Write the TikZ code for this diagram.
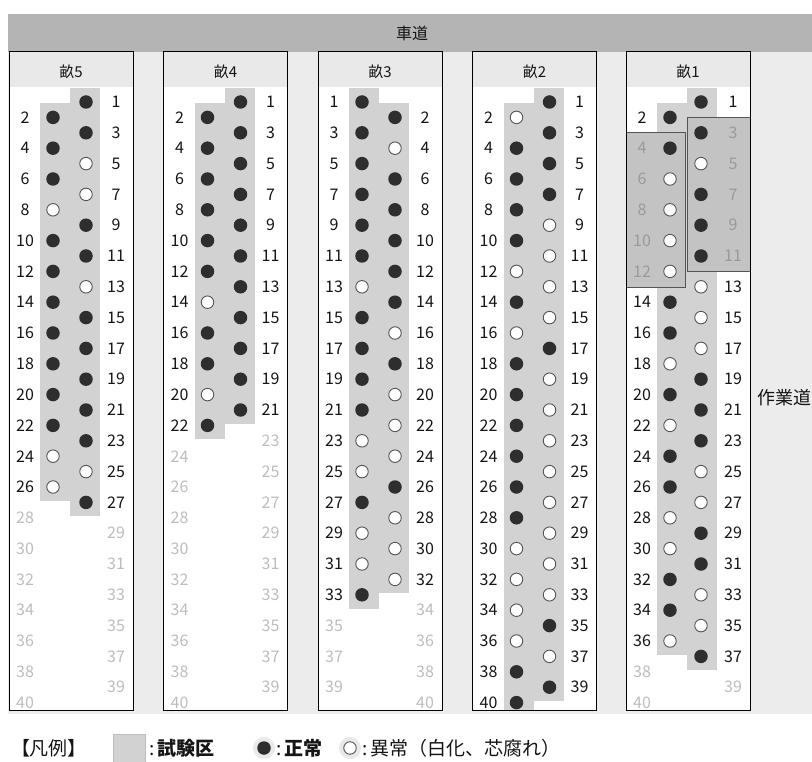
\documentclass[tikz,border=0pt]{standalone}
\usepackage{fontspec}
\setmainfont{Noto Sans CJK JP}
\definecolor{bandc}{HTML}{B4B4B4}
\definecolor{bgc}{HTML}{ECECEC}
\definecolor{headc}{HTML}{E9E9E9}
\definecolor{stripc}{HTML}{D2D2D2}
\definecolor{testc}{HTML}{C3C3C3}
\definecolor{dotc}{HTML}{2E2E2E}
\definecolor{ringc}{HTML}{555555}
\definecolor{numc}{HTML}{151515}
\definecolor{fadec}{HTML}{BDBDBD}
\definecolor{testnumc}{HTML}{9A9A9A}
\newcommand\numfont{\fontsize{16}{16}\selectfont}
% #1 dot x, #2 number x, #3 plant number, #4 state, #5 name prefix
% state: 0 abnormal, 1 normal, 2 none, 3 abnormal in test area, 4 normal in test area
\newcommand\plantcell[5]{%
  \pgfmathsetmacro\yy{102+(#3-1)*15.4}%
  \ifcase#4
    \node[plO] (#5#3) at (#1,\yy) {};\node[numF] (#5n#3) at (#2,\yy) {#3};
  \or
    \node[plF] (#5#3) at (#1,\yy) {};\node[numF] (#5n#3) at (#2,\yy) {#3};
  \or
    \node[numN] (#5n#3) at (#2,\yy) {#3};
  \or
    \node[plO] (#5#3) at (#1,\yy) {};\node[numT] (#5n#3) at (#2,\yy) {#3};
  \or
    \node[plF] (#5#3) at (#1,\yy) {};\node[numT] (#5n#3) at (#2,\yy) {#3};
  \fi}
% #1 box left, #2 header text, #3 left first, #4 left last, #5 right first, #6 right last
\newcommand\ridgebox[6]{%
  \fill[white] (#1,52) rectangle ++(124,658);
  \fill[headc] (#1,52) rectangle ++(124,35);
  \node[headtxt] at ({#1+62},72) {#2};
  \pgfmathsetmacro\ya{102+(#3-1)*15.4-14}\pgfmathsetmacro\yb{min(102+(#4-1)*15.4+14,710)}%
  \fill[stripc] ({#1+31},\ya) rectangle ({#1+61},\yb);
  \pgfmathsetmacro\ya{102+(#5-1)*15.4-14}\pgfmathsetmacro\yb{min(102+(#6-1)*15.4+14,710)}%
  \fill[stripc] ({#1+61},\ya) rectangle ({#1+91},\yb);}
\begin{document}
\begin{tikzpicture}[x=1pt,y=-1pt,
  plF/.style={circle,fill=dotc,minimum size=13.5pt,inner sep=0pt},
  plO/.style={circle,draw=ringc,line width=0.9pt,fill=white,minimum size=12.5pt,inner sep=0pt},
  numF/.style={text=numc,font=\numfont,inner sep=0pt},
  numN/.style={numF,text=fadec},
  numT/.style={numF,text=testnumc},
  headtxt/.style={text=numc,font=\fontsize{15}{15}\selectfont,inner sep=0pt},
  boxline/.style={draw=black,line width=1pt},
  testarea/.style={fill=testc,draw=ringc,line width=0.8pt},
  legtxt/.style={text=numc,font=\fontsize{19}{19}\selectfont,inner sep=0pt,anchor=west}]
\useasboundingbox (0,0) rectangle (812,762);
\fill[white] (0,0) rectangle (812,762);
\fill[bgc] (8,52) rectangle (812,714);
\fill[bandc] (8,14) rectangle (812,52);
\node[headtxt,font=\fontsize{16}{16}\selectfont] (road) at (412,33) {車道};
\node[headtxt,font=\fontsize{18}{18}\selectfont,anchor=west] (work) at (757,398) {作業道};
% ridge 5
\ridgebox{9}{畝5}{2}{26}{1}{27}
\foreach \n/\s in {1/1,3/1,5/0,7/0,9/1,11/1,13/0,15/1,17/1,19/1,21/1,23/1,25/0,27/1,29/2,31/2,33/2,35/2,37/2,39/2}
  {\plantcell{86}{116}{\n}{\s}{a5r}}
\foreach \n/\s in {2/1,4/1,6/1,8/0,10/1,12/1,14/1,16/1,18/1,20/1,22/1,24/0,26/0,28/2,30/2,32/2,34/2,36/2,38/2,40/2}
  {\plantcell{53}{25}{\n}{\s}{a5l}}
\draw[boxline] (9,52) rectangle ++(124,658);
% ridge 4
\ridgebox{163.5}{畝4}{2}{22}{1}{21}
\foreach \n/\s in {1/1,3/1,5/1,7/1,9/1,11/1,13/1,15/1,17/1,19/1,21/1,23/2,25/2,27/2,29/2,31/2,33/2,35/2,37/2,39/2}
  {\plantcell{240.5}{270.5}{\n}{\s}{a4r}}
\foreach \n/\s in {2/1,4/1,6/1,8/1,10/1,12/1,14/0,16/1,18/1,20/0,22/1,24/2,26/2,28/2,30/2,32/2,34/2,36/2,38/2,40/2}
  {\plantcell{207.5}{179.5}{\n}{\s}{a4l}}
\draw[boxline] (163.5,52) rectangle ++(124,658);
% ridge 3
\ridgebox{318}{畝3}{1}{33}{2}{32}
\foreach \n/\s in {1/1,3/1,5/1,7/1,9/1,11/1,13/0,15/1,17/1,19/1,21/1,23/0,25/0,27/1,29/0,31/0,33/1,35/2,37/2,39/2}
  {\plantcell{362}{334}{\n}{\s}{a3l}}
\foreach \n/\s in {2/1,4/0,6/1,8/1,10/1,12/1,14/1,16/0,18/1,20/0,22/0,24/0,26/1,28/0,30/0,32/0,34/2,36/2,38/2,40/2}
  {\plantcell{395}{425}{\n}{\s}{a3r}}
\draw[boxline] (318,52) rectangle ++(124,658);
% ridge 2
\ridgebox{472.5}{畝2}{2}{40}{1}{39}
\foreach \n/\s in {1/1,3/1,5/1,7/1,9/0,11/0,13/0,15/0,17/1,19/0,21/0,23/0,25/0,27/0,29/0,31/0,33/0,35/1,37/0,39/1}
  {\plantcell{549.5}{579.5}{\n}{\s}{a2r}}
\foreach \n/\s in {2/0,4/1,6/1,8/1,10/1,12/0,14/1,16/0,18/1,20/1,22/1,24/1,26/1,28/1,30/0,32/0,34/0,36/0,38/1,40/1}
  {\plantcell{516.5}{488.5}{\n}{\s}{a2l}}
\draw[boxline] (472.5,52) rectangle ++(124,658);
% ridge 1
\ridgebox{626}{畝1}{2}{36}{1}{37}
\draw[testarea] (626,{102+3*15.4-16}) rectangle (685,{102+11*15.4+16});
\draw[testarea] (687,{102+2*15.4-15}) rectangle (750,{102+10*15.4+15});
\foreach \n/\s in {1/1,3/4,5/3,7/4,9/4,11/4,13/0,15/0,17/0,19/1,21/1,23/1,25/0,27/0,29/1,31/1,33/0,35/0,37/1,39/2}
  {\plantcell{701}{733}{\n}{\s}{a1r}}
\foreach \n/\s in {2/1,4/4,6/3,8/3,10/3,12/3,14/1,16/1,18/0,20/1,22/0,24/1,26/1,28/0,30/0,32/1,34/1,36/0,38/2,40/2}
  {\plantcell{670}{642}{\n}{\s}{a1l}}
\draw[boxline] (626,52) rectangle ++(124,658);
% legend
\node[legtxt,anchor=center] (leg) at (49,748) {【凡例】};
\fill[stripc] (113,734) rectangle (145,762);
\draw[fadec,line width=0.6pt] (113,734) rectangle (145,762);
\node[legtxt] (lt1) at (149,748) {:\,\textbf{試験区}};
\fill[headc] (264,748) circle (11);
\node[plF] (ld1) at (264,748) {};
\node[legtxt] (lt2) at (276,748) {:\,\textbf{正常}};
\fill[headc] (350,748) circle (11);
\node[plO] (ld2) at (350,748) {};
\node[legtxt] (lt3) at (362,748) {:\,異常（白化、芯腐れ）};
\end{tikzpicture}
\end{document}
